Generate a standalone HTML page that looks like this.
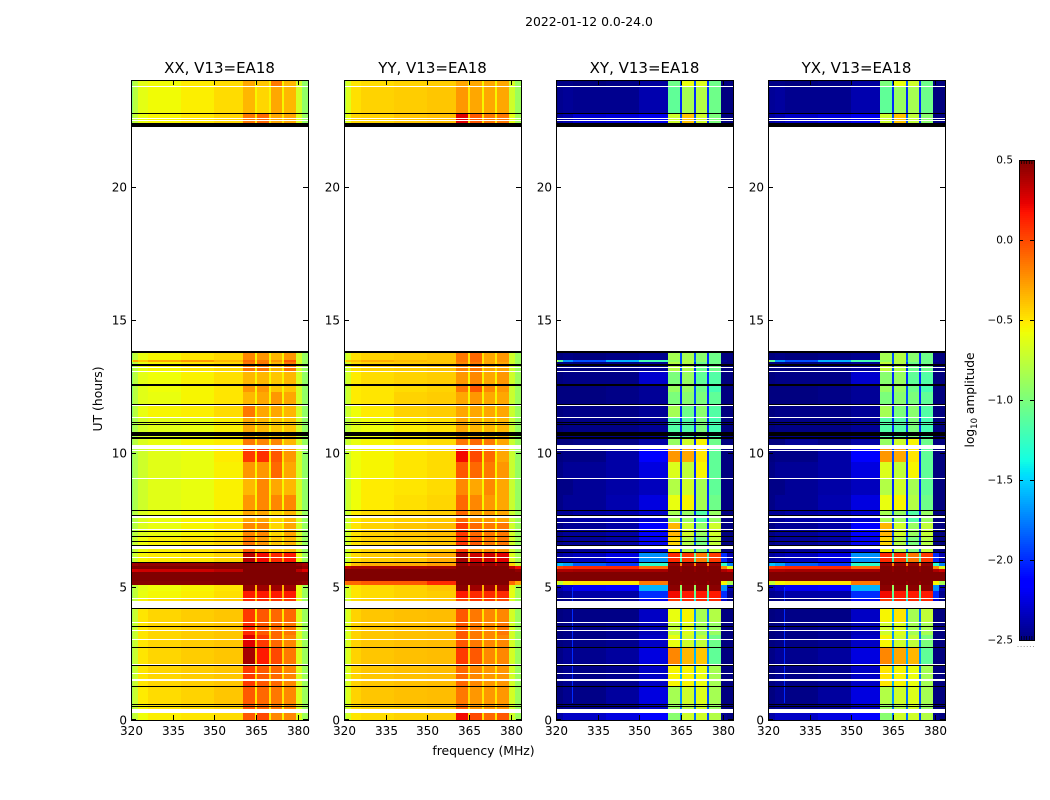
<!DOCTYPE html>
<html lang="en">
<head>
<meta charset="utf-8">
<title>2022-01-12 0.0-24.0 dynamic spectra</title>
<style>
html,body{margin:0;padding:0;background:#fff;width:1050px;height:800px;overflow:hidden}
svg{display:block}
text{font-family:"DejaVu Sans","Liberation Sans",sans-serif;fill:#000}
</style>
</head>
<body>
<svg id="chart" xmlns="http://www.w3.org/2000/svg" width="1050" height="800" viewBox="0 0 1050 800">
<rect x="0" y="0" width="1050" height="800" fill="#fff"/>
<text x="589" y="26" font-size="12.4" text-anchor="middle">2022-01-12 0.0-24.0</text>
<text x="0" y="0" font-size="12.4" text-anchor="middle" transform="translate(102 399) rotate(-90)">UT (hours)</text>
<text x="483.5" y="755" font-size="12.4" text-anchor="middle">frequency (MHz)</text>
<text x="0" y="0" font-size="12.2" text-anchor="middle" transform="translate(974 400) rotate(-90)">log<tspan font-size="8.5" dy="3">10</tspan><tspan dy="-3"> amplitude</tspan></text>
<g id="panels"></g>
<g id="colorbar"></g>
</svg>
<script>
// Categories: frequency-channel edges (MHz) and time-row edges (UT hours, top row first)
const freqEdges = [320,320.8,322.5,326,338,350,360.4,364.5,365.3,369.5,370.3,374.4,375.2,379.4,381.5,383.7];
const hourEdges = [24,23.77,22.76,22.39,13.8,13.5,13.43,13.05,12.56,12.3,11.81,11.36,10.61,10.16,9.68,9.08,8.44,7.88,7.43,6.9,6.53,6.26,5.93,5.78,5.66,5.55,5.21,5.06,4.84,4.58,4.2,3.68,3.19,2.74,2.06,1.24,.6,.3,0];

// Tick labels
const xTicks = [320,335,350,365,380];
const yTicks = [0,5,10,15,20];
const colorTicks = [0.5,0,-0.5,-1,-1.5,-2,-2.5];
const panelTitles = ["XX, V13=EA18","YY, V13=EA18","XY, V13=EA18","YX, V13=EA18"];

// Flagged time ranges [from hour, to hour]
const blackGaps = [[22.76,22.73],[22.39,22.24],[13.84,13.76],[13.35,13.29],[12.6,12.53],[11.85,11.81],[11.18,11.14],[11.1,11.06],[10.8,10.65],[10.61,10.54],[7.88,7.84],[7.69,7.65],[7.09,7.05],[6.9,6.86],[6.71,6.68],[6.56,6.53],[6.3,6.26],[5.93,5.89],[4.2,4.16],[3.53,3.49],[2.74,2.7],[2.06,2.03],[1.26,1.22],[.6,.56],[.54,.51]];
const whiteGaps = [[23.78,23.74],[22.58,22.54],[22.5,22.46],[13.24,13.2],[13.09,13.05],[11.81,11.78],[11.36,11.33],[10.31,10.16],[10.14,10.11],[9.08,9.04],[7.65,7.58],[7.43,7.39],[7.16,7.13],[6.53,6.41],[6.11,6.08],[4.58,4.54],[4.46,4.2],[3.68,3.64],[3.39,3.34],[3.04,3],[2.1,2.06],[1.76,1.73],[1.54,1.46],[.41,.27]];

// Narrow interference line seen in the cross-hand panels: frequency, hour range, level
const crossLineFreq = [325.9];
const crossLineHours = [5,.65];
const crossLineLevel = [-2];

// log10 amplitude: one row per time band, one value per frequency channel
const xxValues = [
[-.95,-.78,-.62,-.57,-.52,-.47,-.3,-.55,-.4,-.55,-.15,-.55,-.35,-.68,-.92],
[-.95,-.78,-.62,-.57,-.53,-.47,-.35,-.55,-.45,-.55,-.3,-.55,-.35,-.68,-.92],
[-.92,-.75,-.6,-.55,-.5,-.45,-.15,-.5,-.1,-.5,-.3,-.5,-.3,-.65,-.9],
null,
[-.92,-.75,-.6,-.55,-.5,-.46,-.2,-.55,-.25,-.55,-.35,-.55,-.25,-.68,-.9],
[-.6,-.3,-.4,-.3,-.25,-.35,-.1,-.5,-.15,-.5,-.25,-.5,-.05,-.65,-.9],
[-.92,-.75,-.6,-.55,-.5,-.46,-.15,-.55,-.15,-.55,-.35,-.55,-.15,-.68,-.9],
[-.95,-.78,-.62,-.58,-.54,-.48,-.35,-.55,-.35,-.55,-.4,-.55,-.35,-.68,-.92],
[-.95,-.78,-.63,-.58,-.55,-.5,-.25,-.55,-.25,-.55,-.4,-.55,-.4,-.68,-.92],
[-.95,-.78,-.63,-.6,-.55,-.5,-.35,-.55,-.3,-.55,-.25,-.55,-.3,-.68,-.92],
[-.95,-.78,-.6,-.55,-.53,-.47,-.15,-.55,-.3,-.55,-.3,-.55,-.35,-.68,-.92],
[-.95,-.82,-.68,-.63,-.6,-.54,-.3,-.55,-.35,-.55,-.4,-.55,-.4,-.7,-.92],
[-.92,-.78,-.65,-.6,-.55,-.52,-.15,-.5,-.2,-.55,-.2,-.55,-.35,-.68,-.9],
[-.95,-.82,-.7,-.63,-.6,-.52,.05,-.5,.08,-.5,-.05,-.5,-.25,-.68,-.92],
[-.95,-.82,-.7,-.63,-.6,-.54,-.25,-.55,-.25,-.55,-.1,-.55,-.3,-.68,-.92],
[-.95,-.82,-.7,-.63,-.6,-.54,-.35,-.55,-.2,-.55,-.3,-.55,-.35,-.68,-.92],
[-.95,-.82,-.7,-.63,-.6,-.54,-.25,-.55,-.2,-.55,-.2,-.55,-.2,-.68,-.92],
[-.92,-.78,-.65,-.6,-.55,-.52,-.3,-.5,-.3,-.55,-.45,-.55,-.35,-.68,-.9],
[-.92,-.78,-.65,-.6,-.55,-.5,-.2,-.5,-.2,-.55,-.45,-.55,-.3,-.68,-.9],
[-.9,-.72,-.58,-.54,-.5,-.46,-.15,-.5,-.25,-.55,-.4,-.55,-.35,-.68,-.9],
[-.9,-.72,-.58,-.54,-.5,-.46,-.05,-.45,-.3,-.5,-.4,-.5,-.35,-.68,-.9],
[-.9,-.7,-.55,-.52,-.5,-.45,.35,-.35,.2,-.35,.1,-.3,.15,-.62,-.88],
[.4,.42,.45,.45,.45,.48,.5,.5,.5,.5,.5,.5,.5,.45,.4],
[.5,.5,.5,.5,.5,.5,.5,.5,.5,.5,.5,.5,.5,.5,.45],
[.25,.28,.3,.3,.3,.35,.5,.5,.5,.5,.5,.5,.5,.35,.25],
[.5,.5,.5,.5,.5,.5,.5,.5,.5,.5,.5,.5,.5,.5,.5],
[.48,.48,.48,.48,.48,.5,.5,.5,.5,.5,.5,.5,.5,.48,.45],
[-.9,-.75,-.62,-.58,-.55,-.5,.45,-.35,.42,-.35,.42,-.35,.42,-.62,-.88],
[-.9,-.75,-.6,-.56,-.53,-.48,.15,-.4,.15,-.4,.15,-.35,.15,-.62,-.88],
[-.88,-.72,-.54,-.48,-.45,-.42,.1,-.4,.1,-.4,.05,-.4,.05,-.62,-.88],
[-.85,-.72,-.5,-.45,-.42,-.4,.05,-.5,-.05,-.5,-.1,-.5,-.1,-.65,-.88],
[-.85,-.72,-.5,-.45,-.42,-.4,.1,-.45,-.05,-.5,-.1,-.5,-.15,-.65,-.88],
[-.85,-.72,-.5,-.45,-.42,-.4,.25,-.4,.05,-.45,-.1,-.5,-.2,-.65,-.88],
[-.85,-.72,-.5,-.45,-.42,-.4,.4,-.4,.15,-.4,0,-.45,-.15,-.65,-.88],
[-.85,-.72,-.5,-.45,-.42,-.4,.05,-.45,-.05,-.45,-.1,-.5,-.2,-.65,-.88],
[-.85,-.72,-.52,-.47,-.44,-.4,-.05,-.5,-.1,-.5,-.15,-.5,-.2,-.65,-.88],
[-.85,-.74,-.55,-.5,-.47,-.44,-.05,-.5,-.1,-.5,-.15,-.55,-.2,-.65,-.88],
[-.85,-.74,-.58,-.53,-.5,-.47,-.05,-.55,0,-.55,-.2,-.55,-.2,-.65,-.88]
];
const yyValues = [
[-.85,-.66,-.5,-.47,-.44,-.42,-.3,-.5,-.3,-.55,-.3,-.55,-.3,-.68,-.88],
[-.85,-.64,-.48,-.44,-.42,-.4,-.25,-.5,-.3,-.55,-.3,-.55,-.3,-.7,-.88],
[-.85,-.6,-.45,-.44,-.4,-.38,.25,-.45,-.05,-.5,-.15,-.5,-.15,-.62,-.85],
null,
[-.85,-.66,-.48,-.44,-.42,-.4,-.15,-.5,-.1,-.5,-.3,-.5,-.25,-.7,-.88],
[-.55,-.4,-.38,-.32,-.37,-.4,-.15,-.5,-.1,-.5,-.3,-.5,-.25,-.7,-.88],
[-.85,-.66,-.48,-.44,-.42,-.4,-.2,-.5,-.15,-.5,-.3,-.5,-.3,-.7,-.88],
[-.85,-.68,-.52,-.47,-.44,-.42,-.25,-.55,-.2,-.55,-.3,-.55,-.25,-.7,-.88],
[-.88,-.7,-.52,-.5,-.47,-.44,-.15,-.55,-.05,-.5,-.2,-.55,-.25,-.72,-.88],
[-.88,-.7,-.52,-.5,-.44,-.42,-.3,-.55,-.25,-.55,-.3,-.55,-.3,-.72,-.88],
[-.88,-.7,-.58,-.52,-.44,-.42,-.3,-.55,-.3,-.55,-.3,-.55,-.3,-.72,-.88],
[-.9,-.74,-.63,-.58,-.53,-.49,-.3,-.55,-.35,-.55,-.35,-.55,-.35,-.72,-.9],
[-.88,-.7,-.6,-.55,-.5,-.47,-.15,-.5,-.1,-.55,-.15,-.55,-.3,-.72,-.88],
[-.9,-.7,-.58,-.55,-.5,-.47,.2,-.5,0,-.55,-.1,-.55,-.3,-.72,-.9],
[-.9,-.7,-.58,-.55,-.5,-.47,-.05,-.55,-.1,-.55,-.15,-.55,-.25,-.72,-.9],
[-.9,-.7,-.58,-.52,-.5,-.47,-.2,-.55,-.3,-.55,-.2,-.55,-.3,-.72,-.9],
[-.9,-.7,-.58,-.52,-.48,-.45,-.1,-.55,-.2,-.55,-.25,-.55,-.3,-.72,-.9],
[-.88,-.68,-.52,-.47,-.44,-.42,-.1,-.5,-.25,-.55,-.25,-.55,-.3,-.72,-.88],
[-.88,-.68,-.5,-.44,-.4,-.37,.05,-.45,-.1,-.5,-.15,-.5,-.15,-.7,-.88],
[-.88,-.66,-.5,-.44,-.42,-.4,.05,-.45,-.05,-.5,-.15,-.5,-.15,-.7,-.88],
[-.88,-.66,-.5,-.44,-.42,-.4,.05,-.45,-.2,-.45,-.2,-.5,-.25,-.7,-.88],
[-.88,-.66,-.47,-.42,-.4,-.32,.4,-.35,.3,-.25,.3,-.25,.25,-.65,-.85],
[-.72,-.55,-.38,-.32,-.32,-.27,.45,.3,.45,.3,.45,.3,.45,-.45,-.72],
[.35,.35,.4,.4,.4,.42,.5,.5,.5,.5,.5,.5,.5,.35,.2],
[.5,.5,.5,.5,.5,.5,.5,.5,.5,.5,.5,.5,.5,.5,.45],
[.5,.5,.5,.5,.5,.5,.5,.5,.5,.5,.5,.5,.5,.5,.5],
[-.15,-.1,-.1,-.05,-.05,.1,.5,.5,.5,.5,.5,.5,.5,-.1,-.3],
[-.85,-.66,-.5,-.47,-.44,-.4,.47,-.4,.42,-.35,.42,-.35,.42,-.62,-.85],
[-.85,-.66,-.5,-.47,-.44,-.42,.15,-.35,.1,-.3,.1,-.35,.1,-.62,-.85],
[-.85,-.66,-.47,-.44,-.42,-.4,0,-.4,.05,-.4,.05,-.4,0,-.65,-.88],
[-.85,-.64,-.44,-.4,-.38,-.37,-.05,-.5,-.15,-.5,-.2,-.5,-.2,-.68,-.88],
[-.85,-.64,-.44,-.4,-.38,-.37,-.05,-.5,-.15,-.5,-.2,-.5,-.15,-.68,-.88],
[-.85,-.64,-.44,-.4,-.38,-.37,-.05,-.5,-.15,-.5,-.2,-.5,-.2,-.68,-.88],
[-.85,-.64,-.44,-.4,-.38,-.37,.05,-.45,-.05,-.45,-.2,-.5,-.2,-.68,-.88],
[-.85,-.64,-.44,-.4,-.38,-.37,-.1,-.47,-.2,-.47,-.25,-.5,-.25,-.68,-.88],
[-.85,-.64,-.44,-.4,-.38,-.37,-.15,-.47,-.25,-.5,-.25,-.5,-.25,-.68,-.88],
[-.85,-.66,-.47,-.44,-.42,-.4,-.1,-.5,-.25,-.5,-.25,-.5,-.25,-.7,-.88],
[-.88,-.68,-.5,-.47,-.44,-.42,.2,-.45,0,-.5,-.1,-.5,-.05,-.7,-.88]
];
const xyValues = [
[-2.5,-2.48,-2.48,-2.5,-2.48,-2.42,-1.05,-1.9,-.6,-1.9,-.65,-2,-1.05,-2.5,-2.5],
[-2.5,-2.46,-2.44,-2.46,-2.46,-2.38,-1.1,-2,-.85,-2,-.8,-2,-1.05,-2.5,-2.5],
[-2.5,-2.42,-2.38,-2.3,-2.28,-2.22,-.7,-1.9,-.4,-1.9,-.7,-2,-1,-2.5,-2.5],
null,
[-2.5,-2.5,-2.48,-2.5,-2.48,-2.46,-.85,-1.9,-.85,-1.9,-.95,-2,-1.05,-2.5,-2.5],
[-.7,-1.1,-1.7,-1.9,-1.6,-1.2,-.9,-1.9,-.8,-1.8,-.95,-2,-1.05,-2.45,-2.5],
[-2.5,-2.5,-2.48,-2.5,-2.48,-2.44,-.8,-1.9,-.8,-2,-1.05,-2,-1.05,-2.5,-2.5],
[-2.5,-2.5,-2.48,-2.48,-2.48,-2.3,-1,-2,-.9,-2,-1.1,-2,-1.15,-2.5,-2.5],
[-2.5,-2.5,-2.5,-2.5,-2.48,-2.44,-.9,-2,-.9,-1.9,-1.05,-2,-1.2,-2.5,-2.5],
[-2.5,-2.5,-2.5,-2.5,-2.48,-2.44,-1,-2,-.95,-1.9,-1,-2,-1.1,-2.5,-2.5],
[-2.5,-2.5,-2.48,-2.48,-2.48,-2.44,-.85,-2,-1.05,-2,-.95,-2,-1.15,-2.5,-2.5],
[-2.5,-2.5,-2.48,-2.48,-2.48,-2.44,-1.15,-2,-1.15,-2,-1,-2,-1.2,-2.5,-2.5],
[-2.5,-2.5,-2.5,-2.48,-2.48,-2.4,-.9,-2,-.7,-2,-.55,-2,-1.05,-2.5,-2.5],
[-2.5,-2.5,-2.48,-2.48,-2.4,-2.15,-.25,-1.9,-.3,-1.9,-.5,-2,-1.1,-2.5,-2.5],
[-2.5,-2.48,-2.44,-2.44,-2.4,-2.25,-.65,-2,-.75,-2,-.55,-2,-1.1,-2.5,-2.5],
[-2.5,-2.48,-2.48,-2.44,-2.4,-2.34,-.8,-2,-.7,-2,-.85,-2,-1.1,-2.5,-2.5],
[-2.5,-2.48,-2.44,-2.44,-2.38,-2.25,-.6,-2,-.55,-2,-.85,-2,-1.05,-2.5,-2.5],
[-2.48,-2.44,-2.44,-2.4,-2.38,-2.3,-.85,-1.9,-.9,-2,-1.15,-2,-.9,-2.5,-2.5],
[-2.5,-2.48,-2.44,-2.44,-2.4,-2.15,-.35,-1.9,-.7,-2,-.9,-2,-.7,-2.5,-2.5],
[-2.5,-2.48,-2.44,-2.44,-2.4,-2.2,-.45,-1.9,-.8,-1.9,-1,-2,-.75,-2.5,-2.5],
[-2.5,-2.5,-2.48,-2.44,-2.4,-2.3,-.55,-1.9,-.8,-1.8,-1,-1.9,-.75,-2.5,-2.5],
[-2.42,-2.42,-2.38,-2.34,-2.25,-1.7,.1,-1.2,.05,-1.1,-.15,-1.2,.05,-2,-2.38],
[-1.7,-1.55,-1.65,-1.85,-1.95,-1.3,.45,-.2,.45,-.2,.45,-.2,.45,-1.3,-1.75],
[-.05,.05,.08,.1,.1,-.1,.5,.45,.5,.45,.5,.45,.5,-.2,-.65],
[.38,.38,.38,.4,.4,.4,.5,.45,.5,.45,.5,.45,.5,.38,.3],
[.5,.5,.5,.5,.5,.5,.5,.5,.5,.5,.5,.5,.5,.5,.5],
[-.55,-.75,-.55,-.5,-.5,-.15,.5,.45,.5,.45,.5,.45,.5,-.55,-.85],
[-2.42,-2.38,-2.3,-2.2,-2.15,-1.6,.47,-.9,.47,-.9,.47,-.9,.47,-1.7,-2.38],
[-2.5,-2.46,-2.44,-2.4,-2.4,-2,.2,-1.1,.15,-1.1,.15,-1.2,.15,-2,-2.46],
[-2.5,-2.5,-2.48,-2.48,-2.44,-2.2,.05,-1.4,.1,-1.4,.1,-1.4,.1,-2.3,-2.5],
[-2.5,-2.5,-2.48,-2.48,-2.48,-2.32,-.6,-1.6,-.55,-1.7,-.85,-1.8,-.8,-2.5,-2.5],
[-2.5,-2.5,-2.48,-2.48,-2.46,-2.36,-.75,-1.7,-.65,-1.7,-.85,-1.8,-.9,-2.5,-2.5],
[-2.5,-2.5,-2.48,-2.48,-2.46,-2.32,-.6,-1.7,-.7,-1.7,-.75,-1.8,-1.05,-2.5,-2.5],
[-2.5,-2.48,-2.44,-2.46,-2.42,-2.25,-.2,-1.6,-.35,-1.6,-.4,-1.7,-1.1,-2.5,-2.5],
[-2.5,-2.5,-2.46,-2.48,-2.46,-2.32,-.55,-1.6,-.55,-1.7,-.6,-1.8,-.85,-2.5,-2.5],
[-2.5,-2.5,-2.46,-2.48,-2.42,-2.25,-.85,-1.7,-.7,-1.8,-.65,-1.9,-.85,-2.5,-2.5],
[-2.5,-2.5,-2.46,-2.48,-2.46,-2.32,-.9,-1.8,-.8,-1.8,-.7,-1.9,-.9,-2.5,-2.5],
[-2.46,-2.4,-2.32,-2.32,-2.25,-2.15,-.95,-1.8,-.7,-1.8,-.7,-1.9,-.8,-2.46,-2.5]
];
const yxValues = [
[-2.5,-2.48,-2.48,-2.5,-2.48,-2.42,-1,-1.9,-.6,-1.9,-.7,-2,-1.05,-2.5,-2.5],
[-2.5,-2.44,-2.42,-2.46,-2.46,-2.38,-1.1,-2,-.9,-2,-.85,-2,-1.05,-2.5,-2.5],
[-2.5,-2.42,-2.38,-2.32,-2.28,-2.22,-.7,-1.9,-.4,-1.9,-.75,-2,-.95,-2.5,-2.5],
null,
[-2.5,-2.5,-2.48,-2.5,-2.48,-2.46,-.85,-1.9,-.8,-1.9,-.95,-2,-1.05,-2.5,-2.5],
[-.75,-1.1,-1.7,-1.9,-1.6,-1.2,-.9,-1.9,-.8,-1.8,-.95,-2,-1.05,-2.45,-2.5],
[-2.5,-2.5,-2.48,-2.5,-2.48,-2.44,-.75,-1.9,-.8,-2,-1.05,-2,-1.05,-2.5,-2.5],
[-2.5,-2.5,-2.48,-2.48,-2.48,-2.3,-.95,-2,-.9,-2,-1.1,-2,-1.15,-2.5,-2.5],
[-2.5,-2.5,-2.5,-2.5,-2.48,-2.44,-.9,-2,-.9,-1.9,-1.05,-2,-1.2,-2.5,-2.5],
[-2.5,-2.5,-2.5,-2.5,-2.48,-2.44,-1,-2,-.95,-1.9,-1,-2,-1.1,-2.5,-2.5],
[-2.5,-2.5,-2.48,-2.48,-2.48,-2.44,-.85,-2,-1,-2,-.95,-2,-1.15,-2.5,-2.5],
[-2.5,-2.5,-2.48,-2.48,-2.48,-2.44,-1.15,-2,-1.15,-2,-1,-2,-1.2,-2.5,-2.5],
[-2.5,-2.5,-2.5,-2.44,-2.48,-2.4,-.9,-2,-.7,-2,-.55,-2,-1.05,-2.5,-2.5],
[-2.5,-2.5,-2.48,-2.48,-2.4,-2.15,-.25,-1.9,-.3,-1.9,-.5,-2,-1.1,-2.5,-2.5],
[-2.5,-2.48,-2.44,-2.44,-2.4,-2.25,-.65,-2,-.75,-2,-.55,-2,-1.1,-2.5,-2.5],
[-2.5,-2.48,-2.48,-2.44,-2.4,-2.34,-.8,-2,-.7,-2,-.85,-2,-1.1,-2.5,-2.5],
[-2.5,-2.48,-2.44,-2.44,-2.38,-2.25,-.6,-2,-.55,-2,-.8,-2,-1.05,-2.5,-2.5],
[-2.48,-2.44,-2.44,-2.4,-2.38,-2.3,-.85,-1.9,-.9,-2,-1.15,-2,-.9,-2.5,-2.5],
[-2.5,-2.48,-2.44,-2.44,-2.4,-2.15,-.35,-1.9,-.7,-2,-.9,-2,-.75,-2.5,-2.5],
[-2.5,-2.48,-2.44,-2.44,-2.4,-2.2,-.45,-1.9,-.8,-1.9,-1,-2,-.8,-2.5,-2.5],
[-2.5,-2.5,-2.48,-2.44,-2.4,-2.3,-.55,-1.9,-.8,-1.8,-1,-1.9,-.75,-2.5,-2.5],
[-2.42,-2.42,-2.38,-2.34,-2.25,-1.7,.1,-1.2,.05,-1.1,-.15,-1.2,.05,-2,-2.38],
[-1.7,-1.55,-1.65,-1.85,-1.95,-1.3,.45,-.2,.45,-.2,.45,-.2,.45,-1.3,-1.75],
[-.05,.05,.08,.1,.1,-.1,.5,.45,.5,.45,.5,.45,.5,-.2,-.65],
[.38,.38,.38,.4,.4,.4,.5,.45,.5,.45,.5,.45,.5,.38,.3],
[.5,.5,.5,.5,.5,.5,.5,.5,.5,.5,.5,.5,.5,.5,.5],
[-.55,-.75,-.55,-.5,-.5,-.15,.5,.45,.5,.45,.5,.45,.5,-.55,-.85],
[-2.42,-2.38,-2.3,-2.2,-2.15,-1.6,.47,-.9,.47,-.9,.47,-.9,.47,-1.7,-2.38],
[-2.5,-2.46,-2.44,-2.4,-2.4,-2,.2,-1.1,.15,-1.1,.15,-1.2,.15,-2,-2.46],
[-2.5,-2.5,-2.48,-2.48,-2.44,-2.2,.05,-1.4,.1,-1.4,.1,-1.4,.1,-2.3,-2.5],
[-2.5,-2.5,-2.48,-2.48,-2.48,-2.32,-.55,-1.6,-.5,-1.7,-.85,-1.8,-.75,-2.5,-2.5],
[-2.5,-2.5,-2.48,-2.48,-2.46,-2.36,-.7,-1.7,-.65,-1.7,-.85,-1.8,-.85,-2.5,-2.5],
[-2.5,-2.5,-2.48,-2.48,-2.46,-2.32,-.55,-1.7,-.7,-1.7,-.75,-1.8,-1,-2.5,-2.5],
[-2.5,-2.48,-2.44,-2.46,-2.42,-2.25,-.2,-1.6,-.3,-1.6,-.35,-1.7,-1.1,-2.5,-2.5],
[-2.5,-2.5,-2.46,-2.48,-2.46,-2.32,-.5,-1.6,-.55,-1.7,-.6,-1.8,-.85,-2.5,-2.5],
[-2.5,-2.5,-2.46,-2.48,-2.42,-2.25,-.8,-1.7,-.7,-1.8,-.65,-1.9,-.85,-2.5,-2.5],
[-2.5,-2.5,-2.46,-2.48,-2.46,-2.32,-.9,-1.8,-.8,-1.8,-.7,-1.9,-.9,-2.5,-2.5],
[-2.46,-2.4,-2.32,-2.32,-2.25,-2.15,-.95,-1.8,-.7,-1.8,-.7,-1.9,-.8,-2.46,-2.5]
];
const panelValues = [xxValues, yyValues, xyValues, yxValues];

const NS = "http://www.w3.org/2000/svg";
const panelLeft = i => Math.ceil(131 + i * 212.3);
const plotWidth = 177, plotTop = 80, plotBottom = 720;
const freqMin = 320, freqMax = 383.7, hourMax = 24;
const xScale = (f, i) => Math.round(panelLeft(i) + (f - freqMin) / (freqMax - freqMin) * plotWidth);
const yScale = h => Math.round(plotBottom - h / hourMax * (plotBottom - plotTop));

const barTop = 160, barBottom = 640, barLeft = 1019, barRight = 1034, vMin = -2.5, vMax = 0.5;
const barScale = v => barBottom - (v - vMin) / (vMax - vMin) * (barBottom - barTop);

function ramp(t, pts) {
  for (let k = 1; k < pts.length; k++) {
    if (t <= pts[k][0]) {
      const a = pts[k - 1], b = pts[k];
      return a[1] + (b[1] - a[1]) * (t - a[0]) / (b[0] - a[0]);
    }
  }
  return pts[pts.length - 1][1];
}
const redRamp = [[0,0],[.35,0],[.66,1],[.89,1],[1,.5]];
const greenRamp = [[0,0],[.125,0],[.375,1],[.64,1],[.91,0],[1,0]];
const blueRamp = [[0,.5],[.11,1],[.34,1],[.65,0],[1,0]];
function jet(t) {
  t = Math.max(0, Math.min(1, t));
  const c = [redRamp, greenRamp, blueRamp].map(r => Math.round(255 * ramp(t, r)));
  return "rgb(" + c.join(",") + ")";
}
const colorOf = v => jet((v - vMin) / (vMax - vMin));

function svgEl(tag, parent, attrs) {
  const el = document.createElementNS(NS, tag);
  for (const k in attrs) el.setAttribute(k, attrs[k]);
  parent.appendChild(el);
  return el;
}

const panelsRoot = document.getElementById("panels");
panelValues.forEach((matrix, p) => {
  const left = panelLeft(p);
  const g = svgEl("g", panelsRoot, {});
  
  

  const heat = svgEl("g", g, {"shape-rendering": "crispEdges"});
  
  
  matrix.forEach((row, r) => {
    if (!row) return;
    const y0 = yScale(hourEdges[r]), y1 = yScale(hourEdges[r + 1]);
    row.forEach((value, c) => {
      const x0 = xScale(freqEdges[c], p), x1 = xScale(freqEdges[c + 1], p);
      const cell = svgEl("rect", heat, {x: x0, y: y0, width: x1 - x0, height: y1 - y0, fill: colorOf(value)});
      
      
    });
  });

  if (p >= 2) {
    crossLineFreq.forEach(f => {
      const line = svgEl("rect", heat, {x: xScale(f, p), y: yScale(crossLineHours[0]), width: 1, height: yScale(crossLineHours[1]) - yScale(crossLineHours[0]), fill: colorOf(crossLineLevel[0])});
      
      
    });
  }

  whiteGaps.forEach(gap => {
    const el = svgEl("rect", heat, {x: left, y: yScale(gap[0]), width: plotWidth, height: Math.max(1, yScale(gap[1]) - yScale(gap[0])), fill: "#fff"});
    
    
  });
  blackGaps.forEach(gap => {
    const el = svgEl("rect", heat, {x: left, y: yScale(gap[0]), width: plotWidth, height: Math.max(1, yScale(gap[1]) - yScale(gap[0])), fill: "#000"});
    
    
  });

  const ticks = svgEl("g", g, {stroke: "#000", "stroke-width": 1, "shape-rendering": "crispEdges"});
  
  
  xTicks.forEach(f => {
    const x = xScale(f, p) + 0.5;
    const a = svgEl("line", ticks, {x1: x, x2: x, y1: plotBottom, y2: plotBottom - 5});
    
    
    const b = svgEl("line", ticks, {x1: x, x2: x, y1: plotTop, y2: plotTop + 5});
    
    
    const t = svgEl("text", g, {x: x, y: 735, "font-size": 12, "text-anchor": "middle"});
    
    
    t.textContent = f;
  });
  yTicks.forEach(h => {
    const y = yScale(h) + 0.5 - (h === 0 ? 1 : 0);
    const a = svgEl("line", ticks, {x1: left, x2: left + 5, y1: y, y2: y});
    
    
    const b = svgEl("line", ticks, {x1: left + plotWidth, x2: left + plotWidth - 5, y1: y, y2: y});
    
    
    const t = svgEl("text", g, {x: left - 4, y: yScale(h) + 4.5, "font-size": 12, "text-anchor": "end"});
    
    
    t.textContent = h;
  });

  const frame = svgEl("rect", g, {x: left + 0.5, y: plotTop + 0.5, width: plotWidth, height: plotBottom - plotTop, fill: "none", stroke: "#000", "stroke-width": 1, "shape-rendering": "crispEdges"});
  
  

  const title = svgEl("text", g, {x: left + plotWidth / 2, y: 73, "font-size": 15, "text-anchor": "middle"});
  
  
  title.textContent = panelTitles[p];
});

// Colorbar
const cb = document.getElementById("colorbar");
const barGroup = svgEl("g", cb, {"shape-rendering": "crispEdges"});


for (let py = barTop; py < barBottom; py += 2) {
  const v = vMax - (py + 1 - barTop) / (barBottom - barTop) * (vMax - vMin);
  const seg = svgEl("rect", barGroup, {x: barLeft, y: py, width: barRight - barLeft, height: 2, fill: colorOf(v)});
  
  
}
const cbFrame = svgEl("rect", cb, {x: barLeft + 0.5, y: barTop + 0.5, width: barRight - barLeft, height: barBottom - barTop, fill: "none", stroke: "#000", "stroke-width": 1, "shape-rendering": "crispEdges"});


colorTicks.forEach(v => {
  const y = Math.round(barScale(v)) + 0.5;
  const a = svgEl("line", cb, {x1: barLeft, x2: barLeft + 4, y1: y, y2: y, stroke: "#000", "shape-rendering": "crispEdges"});
  
  
  const b = svgEl("line", cb, {x1: barRight, x2: barRight - 4, y1: y, y2: y, stroke: "#000", "shape-rendering": "crispEdges"});
  
  
  const t = svgEl("text", cb, {x: 1013, y: Math.round(barScale(v)) + 3.5, "font-size": 10.5, "text-anchor": "end"});
  
  
  t.textContent = v < 0 ? "\u2212" + Math.abs(v).toFixed(1) : v.toFixed(1);
});
for (let k = 0; k < 6; k++) {
  const x = barLeft + 2.5 + k * 2.6;
  const top = svgEl("line", cb, {x1: x, x2: x, y1: barTop, y2: barTop + 4, stroke: "#000", "stroke-width": 0.7});
  
  
  const bot = svgEl("line", cb, {x1: x, x2: x, y1: barBottom, y2: barBottom - 4, stroke: "#000", "stroke-width": 0.7});
  
  
  const dot = svgEl("rect", cb, {x: barLeft - 1.5 + k * 3.1, y: 646, width: 1, height: 1, fill: "#999"});
  
  
}
</script>
</body>
</html>
